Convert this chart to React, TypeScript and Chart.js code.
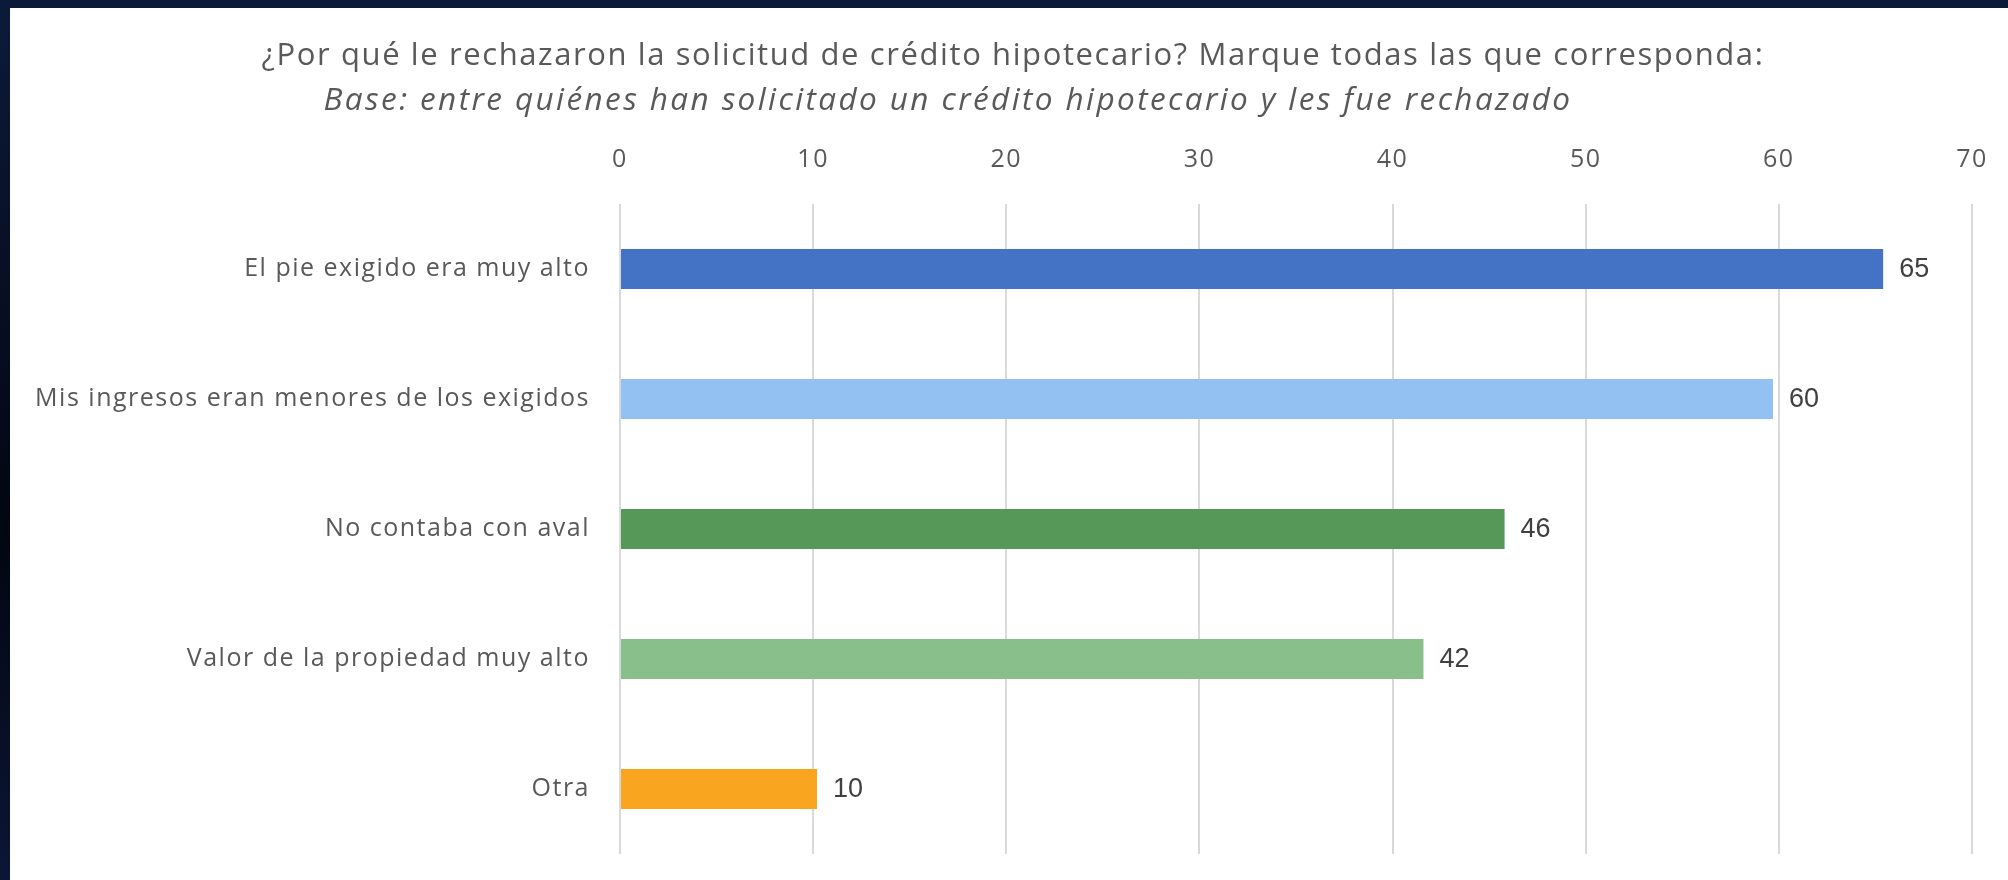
import React, { useEffect, useRef } from "react";
import { Chart, registerables } from "chart.js";

Chart.register(...registerables);

const categories = [
  "El pie exigido era muy alto",
  "Mis ingresos eran menores de los exigidos",
  "No contaba con aval",
  "Valor de la propiedad muy alto",
  "Otra",
];
const values = [65.4, 59.7, 45.8, 41.6, 10.2];
const valueLabels = ["65", "60", "46", "42", "10"];
const barColors = ["#4472C4", "#93C2F2", "#559858", "#89BF8A", "#F9A51F"];
const axisMin = 0;
const axisMax = 70;
const axisStep = 10;
const titleText =
  "¿Por qué le rechazaron la solicitud de crédito hipotecario? Marque todas las que corresponda:";
const subtitleText =
  "Base: entre quiénes han solicitado un crédito hipotecario y les fue rechazado";

const FONT = '"Open Sans", "Noto Sans", sans-serif';
const TEXT = "#595959";

const spacingPlugin = {
  id: "spacing",
  beforeDraw(chart: any) {
    (chart.ctx as any).letterSpacing = "1.5px";
  },
};

const headerPlugin = {
  id: "header",
  afterDraw(chart: any) {
    const ctx = chart.ctx;
    ctx.save();
    ctx.fillStyle = TEXT;
    ctx.textAlign = "center";
    ctx.textBaseline = "middle";
    ctx.letterSpacing = "1.6px";
    ctx.font = `31px ${FONT}`;
    ctx.fillText(titleText, 1003, 48);
    ctx.letterSpacing = "2.4px";
    ctx.font = `italic 31.5px ${FONT}`;
    ctx.fillText(subtitleText, 938, 93);
    ctx.restore();
  },
};

const valueLabelPlugin = {
  id: "valueLabels",
  afterDatasetsDraw(chart: any) {
    const ctx = chart.ctx;
    const meta = chart.getDatasetMeta(0);
    ctx.save();
    ctx.letterSpacing = "0px";
    ctx.fillStyle = "#404040";
    ctx.textAlign = "left";
    ctx.textBaseline = "middle";
    ctx.font = `27px "Liberation Sans", Arial, sans-serif`;
    meta.data.forEach((el: any, i: number) => {
      ctx.fillText(valueLabels[i], el.x + 16, el.y + 1);
    });
    ctx.restore();
  },
};

export default function App() {
  const ref = useRef<HTMLCanvasElement>(null);

  useEffect(() => {
    if (!ref.current) return;
    const chart = new Chart(ref.current, {
      type: "bar",
      data: {
        labels: categories,
        datasets: [
          {
            data: values,
            backgroundColor: barColors,
            borderWidth: 0,
            barPercentage: 0.308,
            categoryPercentage: 1,
          },
        ],
      },
      options: {
        indexAxis: "y",
        animation: false,
        responsive: false,
        devicePixelRatio: 1,
        layout: { padding: { top: 100, left: 0, right: 36, bottom: 26 } },
        plugins: {
          legend: { display: false },
          tooltip: { enabled: false },
          title: { display: false },
        },
        scales: {
          x: {
            position: "top",
            min: axisMin,
            max: axisMax,
            ticks: {
              stepSize: axisStep,
              color: TEXT,
              font: { family: FONT, size: 25 },
              padding: 29,
            },
            grid: { color: "#d9d9d9", lineWidth: 2, drawTicks: false },
            border: { display: false },
            afterFit: (s: any) => {
              s.height = 96;
              s.paddingLeft = 0;
              s.paddingRight = 0;
            },
          },
          y: {
            ticks: {
              color: TEXT,
              font: { family: FONT, size: 25 },
              padding: 30,
            },
            grid: { display: false, drawTicks: false },
            border: { display: false },
            afterFit: (s: any) => {
              s.width = 610;
              s.paddingTop = 0;
              s.paddingBottom = 0;
            },
          },
        },
      },
      plugins: [spacingPlugin, headerPlugin, valueLabelPlugin],
    });
    return () => chart.destroy();
  }, []);

  return (
    <div
      style={{
        position: "fixed",
        inset: 0,
        background:
          "linear-gradient(180deg, #0c1a3a 0%, #050b1c 45%, #020611 60%, #0b1636 100%)",
      }}
    >
      <div
        style={{
          position: "absolute",
          left: 10,
          top: 8,
          width: 1998,
          height: 872,
          background: "#ffffff",
        }}
      >
        <canvas ref={ref} width={1998} height={872} style={{ display: "block" }} />
      </div>
    </div>
  );
}
